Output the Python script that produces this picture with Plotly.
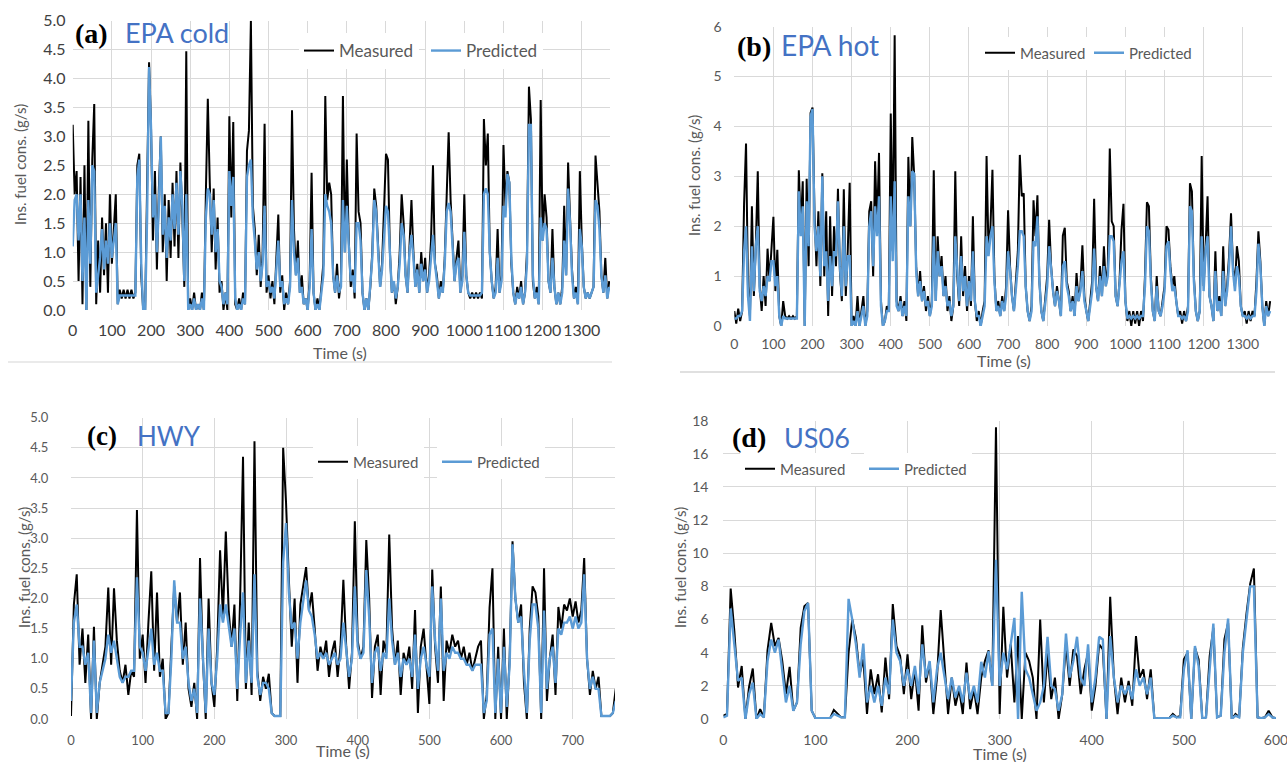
import plotly.graph_objects as go

W, H = 1287, 762

# ---------------- data ----------------
# EPA cycles sampled every 5 s, HWY and US06 every 4 s
T_EPA = list(range(0, 1371, 5))
T_HWY = list(range(0, 765, 4))
T_US06 = list(range(0, 601, 4))

EPA_COLD_MEAS = [
    3.2, 2.0, 2.4, 0.5, 2.3, 0.1, 2.5, 0.0, 3.27, 0.4, 2.6, 3.56, 0.1, 1.2, 0.3, 1.6, 0.6, 1.5, 0.3, 2.0,
    0.8, 1.4, 2.0, 0.1, 0.35, 0.2, 0.35, 0.2, 0.35, 0.2, 0.35, 0.2, 0.3, 2.5, 2.7, 0.6, 0.0, 0.0, 1.8, 4.28,
    3.15, 1.2, 2.4, 0.7, 2.1, 3.0, 1.0, 2.0, 0.5, 1.9, 0.9, 2.2, 1.1, 2.4, 0.9, 2.55, 1.6, 0.4, 4.47, 0.0,
    0.2, 0.0, 0.3, 0.0, 0.1, 0.0, 0.3, 0.0, 2.0, 3.65, 2.2, 1.0, 2.1, 0.7, 1.6, 0.3, 0.5, 0.0, 0.3, 0.0,
    3.35, 1.6, 3.25, 0.1, 0.0, 0.2, 0.0, 0.3, 0.1, 2.75, 3.1, 5.0, 1.8, 1.4, 0.6, 1.3, 0.4, 1.0, 3.22, 0.3,
    0.6, 0.2, 0.5, 0.1, 0.9, 1.65, 0.3, 0.6, 0.0, 0.3, 0.1, 0.5, 3.45, 1.4, 0.6, 1.2, 0.3, 0.6, 0.1, 0.2,
    0.0, 0.5, 2.37, 0.3, 0.0, 0.2, 0.0, 0.4, 0.8, 3.7, 1.9, 2.2, 2.0, 0.6, 0.3, 0.8, 0.2, 0.5, 3.7, 1.0,
    2.6, 1.2, 0.4, 0.7, 0.2, 3.05, 1.7, 1.5, 0.3, 0.0, 0.2, 0.0, 0.4, 1.0, 2.1, 1.8, 1.0, 0.4, 0.8, 1.6,
    2.7, 2.6, 1.0, 0.3, 0.5, 0.1, 0.4, 1.0, 2.0, 1.5, 0.6, 0.3, 1.2, 1.9, 1.0, 0.4, 0.8, 0.3, 1.0, 0.5,
    0.9, 0.3, 0.6, 1.2, 2.5, 0.8, 0.6, 0.2, 0.5, 0.3, 0.9, 1.9, 3.07, 1.9, 1.2, 0.5, 0.9, 1.2, 0.3, 0.6,
    2.0, 0.6, 0.3, 0.2, 0.3, 0.2, 0.3, 0.2, 0.3, 0.2, 3.3, 2.5, 3.05, 1.0, 0.5, 0.2, 0.4, 1.4, 0.3, 0.6,
    2.85, 1.8, 2.4, 2.2, 0.8, 0.3, 0.1, 0.4, 0.2, 0.5, 0.1, 0.3, 1.0, 3.86, 3.3, 0.5, 0.2, 0.4, 0.1, 3.63,
    1.2, 2.0, 1.6, 0.5, 0.3, 1.4, 0.4, 0.1, 0.3, 0.1, 0.4, 1.8, 0.6, 2.55, 1.6, 0.7, 0.2, 0.4, 0.1, 2.4,
    1.2, 0.4, 0.2, 0.3, 0.2, 0.3, 0.4, 2.67, 2.1, 1.7, 0.6, 0.3, 0.9, 0.2, 0.5,
]
EPA_COLD_PRED = [
    1.1, 1.9, 2.0, 1.2, 2.0, 0.5, 1.6, 0.0, 1.9, 0.8, 2.5, 2.4, 0.3, 0.6, 0.9, 1.4, 0.7, 1.2, 0.8, 1.5,
    0.9, 1.2, 1.5, 0.1, 0.25, 0.25, 0.25, 0.25, 0.25, 0.25, 0.25, 0.25, 0.25, 2.3, 2.6, 0.8, 0.0, 0.0, 1.6, 4.2,
    3.15, 1.6, 2.0, 1.0, 1.8, 3.0, 1.3, 1.8, 0.9, 1.6, 1.2, 2.0, 1.4, 2.2, 1.3, 2.4, 1.8, 0.5, 2.0, 0.0,
    0.1, 0.0, 0.2, 0.0, 0.1, 0.0, 0.2, 0.0, 1.6, 2.1, 2.0, 1.3, 1.9, 1.0, 1.4, 0.5, 0.4, 0.1, 0.3, 0.1,
    2.4, 1.8, 2.3, 0.2, 0.0, 0.1, 0.0, 0.2, 0.1, 2.3, 2.5, 2.6, 1.6, 1.2, 0.7, 1.0, 0.5, 0.8, 1.8, 0.4,
    0.5, 0.3, 0.4, 0.2, 0.7, 1.2, 0.4, 0.5, 0.1, 0.2, 0.1, 0.4, 1.9, 1.0, 0.6, 0.9, 0.3, 0.4, 0.1, 0.2,
    0.0, 0.4, 1.4, 0.3, 0.0, 0.1, 0.0, 0.3, 0.6, 2.0, 1.8, 1.7, 1.5, 0.6, 0.3, 0.6, 0.3, 0.4, 1.9, 1.0,
    1.8, 1.1, 0.5, 0.6, 0.3, 1.5, 1.5, 1.2, 0.3, 0.0, 0.2, 0.0, 0.4, 0.9, 1.9, 1.7, 1.0, 0.4, 0.7, 1.3,
    1.8, 1.7, 1.0, 0.3, 0.5, 0.2, 0.4, 0.8, 1.5, 1.3, 0.6, 0.3, 1.0, 1.3, 0.9, 0.4, 0.7, 0.3, 0.8, 0.5,
    0.7, 0.3, 0.5, 0.9, 1.3, 0.8, 0.5, 0.2, 0.4, 0.3, 0.8, 1.7, 1.85, 1.7, 1.1, 0.5, 0.8, 0.9, 0.3, 0.5,
    1.35, 0.6, 0.3, 0.25, 0.25, 0.25, 0.25, 0.25, 0.25, 0.3, 2.0, 2.1, 2.0, 1.0, 0.5, 0.2, 0.3, 0.9, 0.3, 0.5,
    1.8, 1.6, 2.35, 2.2, 0.9, 0.3, 0.1, 0.3, 0.2, 0.4, 0.1, 0.3, 0.8, 3.2, 3.2, 0.6, 0.2, 0.3, 0.1, 1.6,
    1.2, 1.5, 1.4, 0.5, 0.3, 0.9, 0.4, 0.1, 0.3, 0.1, 0.3, 1.2, 0.6, 2.1, 1.5, 0.6, 0.2, 0.3, 0.1, 1.4,
    1.1, 0.4, 0.2, 0.3, 0.2, 0.3, 0.4, 1.9, 1.8, 1.4, 0.6, 0.3, 0.6, 0.2, 0.4,
]

EPA_HOT_MEAS = [
    0.3, 0.05, 0.35, 0.1, 0.3, 2.45, 3.66, 0.8, 0.2, 2.4, 0.6, 1.6, 3.1, 0.8, 0.3, 1.0, 0.4, 1.55, 0.9, 1.7,
    2.19, 0.7, 1.53, 0.2, 0.0, 0.5, 0.2, 0.15, 0.2, 0.15, 0.2, 0.15, 0.2, 3.12, 2.0, 2.9, 0.0, 2.95, 1.2, 4.27,
    4.38, 2.3, 1.2, 2.3, 0.8, 3.06, 1.0, 2.3, 0.2, 2.2, 0.6, 2.0, 1.2, 2.75, 1.1, 0.5, 2.74, 0.6, 1.5, 2.87,
    0.0, 0.2, 0.0, 0.6, 0.0, 0.3, 0.6, 0.0, 0.3, 2.3, 2.5, 1.0, 3.3, 2.0, 3.47, 0.5, 0.0, 0.1, 0.4, 0.3,
    4.26, 1.5, 5.83, 0.5, 0.3, 0.6, 0.2, 0.5, 0.1, 3.39, 2.0, 3.79, 3.0, 1.2, 0.6, 1.1, 0.5, 0.8, 0.3, 0.6,
    0.2, 0.5, 3.12, 0.5, 1.8, 1.0, 1.4, 0.6, 1.0, 0.3, 0.6, 0.1, 0.4, 3.1, 1.0, 0.4, 1.8, 0.6, 1.2, 0.3,
    1.0, 0.4, 2.2, 0.5, 0.1, 0.3, 0.0, 0.3, 0.5, 3.41, 1.5, 2.0, 3.13, 1.0, 0.3, 0.5, 0.2, 0.6, 0.3, 0.8,
    2.32, 1.2, 0.6, 0.3, 0.9, 1.5, 3.43, 2.6, 2.66, 0.8, 0.3, 0.1, 0.4, 2.52, 1.8, 2.62, 0.9, 0.3, 0.1, 0.5,
    1.0, 2.13, 1.2, 0.7, 0.4, 0.8, 0.5, 0.2, 1.81, 1.97, 0.9, 0.7, 0.3, 0.6, 0.2, 1.06, 0.5, 0.8, 1.62, 0.6,
    0.3, 0.1, 0.5, 0.9, 2.55, 0.8, 0.5, 1.2, 0.6, 1.6, 0.8, 1.2, 3.56, 2.1, 2.0, 0.6, 0.4, 0.9, 1.93, 2.45,
    0.5, 0.1, 0.3, 0.0, 0.3, 0.05, 0.3, 0.0, 0.3, 0.1, 1.0, 2.48, 2.4, 1.0, 0.3, 0.1, 1.0, 0.3, 0.2, 0.5,
    0.8, 2.0, 1.93, 1.2, 0.8, 1.0, 0.5, 0.2, 0.3, 0.05, 0.3, 0.1, 0.4, 2.86, 2.7, 1.0, 0.3, 0.1, 0.3, 3.41,
    0.8, 1.6, 2.6, 0.6, 0.4, 0.1, 1.5, 0.3, 0.6, 0.2, 1.6, 0.4, 0.8, 1.4, 2.26, 1.2, 0.8, 1.6, 1.3, 0.4,
    0.2, 0.3, 0.05, 0.3, 0.1, 0.3, 0.2, 0.9, 1.9, 1.3, 0.4, 0.0, 0.5, 0.2, 0.5,
]
EPA_HOT_PRED = [
    0.15, 0.15, 0.2, 0.2, 0.3, 1.5, 2.0, 0.6, 0.1, 1.6, 0.7, 1.6, 2.0, 0.7, 0.5, 0.8, 0.6, 1.0, 0.9, 1.3,
    1.3, 0.8, 1.0, 0.2, 0.0, 0.2, 0.15, 0.15, 0.15, 0.15, 0.15, 0.15, 0.15, 2.7, 1.8, 2.4, 0.0, 2.5, 1.6, 4.2,
    4.35, 2.0, 1.5, 2.0, 1.0, 3.0, 1.2, 1.5, 0.5, 1.4, 0.8, 1.5, 1.4, 2.5, 1.2, 0.6, 2.0, 0.8, 1.4, 1.4,
    0.0, 0.1, 0.0, 0.3, 0.0, 0.2, 0.4, 0.0, 0.2, 2.0, 2.3, 1.2, 2.4, 1.8, 2.6, 0.4, 0.0, 0.1, 0.3, 0.3,
    2.6, 1.3, 2.9, 0.4, 0.3, 0.5, 0.2, 0.4, 0.2, 2.6, 2.0, 3.1, 3.05, 1.1, 0.6, 0.9, 0.5, 0.7, 0.4, 0.5,
    0.2, 0.4, 1.8, 0.5, 1.5, 1.0, 1.2, 0.6, 0.8, 0.4, 0.5, 0.2, 0.4, 1.8, 1.0, 0.5, 1.4, 0.7, 1.0, 0.4,
    0.9, 0.5, 1.5, 0.5, 0.2, 0.2, 0.0, 0.2, 0.4, 1.8, 1.4, 1.8, 2.0, 0.9, 0.3, 0.4, 0.2, 0.5, 0.3, 0.6,
    1.5, 1.1, 0.6, 0.3, 0.7, 1.2, 1.9, 1.9, 1.8, 0.8, 0.3, 0.1, 0.3, 1.7, 1.6, 2.2, 0.9, 0.3, 0.1, 0.4,
    0.8, 1.6, 1.1, 0.7, 0.4, 0.7, 0.5, 0.2, 1.2, 1.3, 0.8, 0.6, 0.3, 0.5, 0.2, 0.8, 0.5, 0.7, 1.1, 0.5,
    0.3, 0.1, 0.4, 0.7, 1.55, 0.8, 0.5, 1.0, 0.6, 1.2, 0.8, 1.0, 1.8, 1.8, 1.7, 0.6, 0.4, 0.8, 1.3, 1.5,
    0.5, 0.15, 0.2, 0.15, 0.2, 0.15, 0.2, 0.15, 0.2, 0.2, 0.8, 2.0, 1.9, 0.9, 0.3, 0.1, 0.8, 0.3, 0.2, 0.4,
    0.7, 1.6, 1.7, 1.1, 0.7, 0.8, 0.5, 0.2, 0.2, 0.15, 0.2, 0.1, 0.3, 2.4, 2.3, 0.9, 0.3, 0.1, 0.3, 1.8,
    0.7, 1.5, 1.8, 0.6, 0.4, 0.1, 1.1, 0.3, 0.5, 0.2, 1.1, 0.4, 0.7, 1.2, 2.0, 1.1, 0.7, 1.2, 1.0, 0.4,
    0.2, 0.2, 0.15, 0.2, 0.15, 0.2, 0.2, 0.7, 1.65, 1.2, 0.4, 0.0, 0.4, 0.2, 0.3,
]

HWY_MEAS = [
    0.05, 1.9, 2.4, 0.9, 1.5, 0.6, 1.4, 0.0, 1.53, 0.0, 0.6, 0.9, 1.2, 2.18, 0.9, 2.17, 1.3, 0.8, 0.6, 0.9, 0.4, 0.8, 0.7, 3.47, 1.0,
    1.4, 0.6, 1.6, 2.45, 0.8, 2.1, 0.7, 1.0, 0.0, 0.1, 1.2, 2.2, 1.6, 2.1, 0.9, 1.6, 0.5, 0.2, 0.6, 0.0, 2.67, 1.0, 0.0, 2.0, 0.6,
    0.2, 1.2, 2.8, 1.7, 3.11, 1.8, 1.2, 1.9, 0.3, 2.0, 4.35, 0.5, 1.6, 0.4, 4.61, 0.8, 0.3, 0.7, 0.5, 0.75, 0.1, 0.05, 0.05, 0.05, 4.5,
    3.6, 2.3, 1.2, 2.0, 0.6, 1.9, 2.2, 2.52, 1.8, 2.1, 1.5, 0.8, 1.2, 1.0, 1.3, 0.7, 1.1, 1.3, 0.7, 1.2, 2.31, 1.2, 0.5, 1.1, 3.28,
    1.3, 1.0, 1.2, 2.97, 2.0, 0.35, 1.2, 1.4, 0.4, 1.3, 1.1, 3.06, 1.5, 0.9, 1.3, 0.4, 1.1, 0.9, 1.2, 0.5, 1.81, 0.1, 1.2, 1.5, 0.8,
    0.25, 2.48, 1.2, 0.6, 2.2, 0.3, 1.3, 1.1, 1.4, 1.2, 1.3, 1.0, 1.2, 0.9, 1.1, 0.8, 1.0, 1.2, 1.3, 0.0, 0.4, 1.85, 2.5, 0.0, 1.2,
    0.0, 1.5, 0.0, 1.0, 2.95, 2.0, 1.6, 1.9, 0.6, 0.0, 1.5, 2.2, 2.1, 1.7, 0.0, 2.5, 0.3, 1.0, 1.4, 0.4, 1.86, 1.5, 1.9, 1.8, 2.0,
    1.7, 1.95, 1.6, 1.8, 2.67, 1.0, 0.4, 0.8, 0.5, 0.7, 0.05, 0.05, 0.05, 0.05, 0.1, 0.5, 0.2,
]
HWY_PRED = [
    0.3, 1.6, 1.9, 1.2, 1.2, 0.9, 1.1, 0.1, 1.3, 0.1, 0.6, 0.8, 1.0, 1.4, 1.1, 1.3, 1.0, 0.7, 0.6, 0.7, 0.7, 0.8, 0.8, 2.35, 1.2,
    1.1, 0.8, 1.2, 1.5, 0.9, 1.1, 0.8, 0.8, 0.1, 0.1, 1.0, 2.3, 1.6, 1.6, 1.0, 1.2, 0.6, 0.3, 0.5, 0.1, 2.0, 1.0, 0.1, 1.5, 0.6,
    0.4, 1.0, 1.9, 1.6, 1.9, 1.5, 1.2, 1.5, 0.5, 1.4, 2.1, 0.6, 1.3, 0.6, 2.4, 0.7, 0.4, 0.6, 0.6, 0.5, 0.1, 0.05, 0.05, 0.05, 2.6,
    3.25, 2.1, 1.5, 1.6, 1.0, 1.6, 2.0, 2.3, 1.8, 1.7, 1.4, 1.0, 1.1, 1.0, 1.1, 0.9, 1.0, 1.1, 0.9, 1.0, 1.6, 1.1, 0.7, 1.0, 2.2,
    1.2, 1.0, 1.1, 2.47, 1.7, 0.6, 1.1, 1.2, 0.8, 1.1, 1.0, 2.0, 1.3, 0.9, 1.1, 0.7, 1.0, 0.9, 1.0, 0.7, 1.4, 0.5, 1.0, 1.2, 0.9,
    0.7, 2.2, 1.3, 0.8, 2.0, 0.8, 1.1, 1.0, 1.2, 1.1, 1.1, 1.0, 1.0, 0.9, 0.9, 0.8, 0.9, 0.9, 0.9, 0.1, 0.3, 1.4, 1.5, 0.1, 1.0,
    0.1, 1.2, 0.2, 0.9, 2.9, 2.0, 1.6, 1.7, 0.8, 0.1, 1.3, 1.9, 1.9, 1.5, 0.1, 1.8, 0.5, 1.0, 1.2, 0.6, 1.5, 1.4, 1.6, 1.6, 1.7,
    1.5, 1.7, 1.5, 1.6, 2.4, 1.0, 0.5, 0.7, 0.5, 0.5, 0.05, 0.05, 0.05, 0.05, 0.1, 0.3, 0.1,
]

US06_MEAS = [
    0.2, 0.3, 7.87, 5.3, 1.9, 3.2, 0.0, 1.95, 3.05, 0.0, 0.6, 0.1, 4.15, 5.8, 4.4, 4.9, 3.5, 1.5, 3.15, 0.5, 1.0, 5.5, 6.8, 7.0, 0.5,
    0.05, 0.05, 0.05, 0.05, 0.05, 0.55, 0.3, 0.1, 0.1, 4.0, 6.0, 4.9, 2.7, 3.6, 0.3, 3.0, 1.5, 2.7, 0.4, 3.7, 1.2, 6.93, 4.4, 3.8, 1.5,
    3.9, 1.2, 3.0, 0.5, 5.66, 2.2, 3.4, 0.3, 2.5, 6.57, 3.6, 0.3, 2.5, 0.8, 1.8, 0.3, 3.4, 0.6, 1.8, 0.3, 2.5, 3.5, 4.15, 2.0, 17.6,
    0.3, 6.77, 2.5, 4.5, 1.0, 5.0, 0.0, 4.0, 3.5, 2.5, 0.0, 6.0, 1.0, 4.0, 1.2, 2.5, 0.0, 1.5, 4.5, 2.0, 4.2, 3.8, 1.5, 3.0, 4.0,
    0.5, 2.0, 4.5, 4.2, 0.0, 7.37, 2.5, 0.3, 2.5, 1.0, 2.3, 0.8, 5.0, 2.5, 3.0, 1.2, 3.0, 0.0, 0.05, 0.05, 0.05, 0.05, 0.3, 0.1, 0.2,
    3.6, 4.0, 0.0, 4.3, 3.6, 0.0, 0.1, 3.8, 5.5, 0.1, 0.2, 4.8, 5.8, 0.0, 0.3, 0.1, 4.3, 6.37, 8.17, 9.08, 0.1, 0.05, 0.1, 0.5, 0.1,
    0.05,
]
US06_PRED = [
    0.1, 0.2, 6.67, 4.5, 2.3, 2.5, 0.0, 1.5, 2.2, 0.0, 0.3, 0.1, 3.5, 4.8, 4.0, 4.8, 3.0, 1.0, 2.0, 0.5, 1.0, 4.5, 6.5, 7.0, 0.5,
    0.05, 0.05, 0.05, 0.05, 0.05, 0.3, 0.2, 0.1, 0.1, 7.25, 6.0, 4.5, 2.5, 4.55, 1.0, 2.0, 1.0, 2.0, 0.8, 2.5, 1.5, 6.0, 4.0, 3.5, 2.0,
    3.0, 2.0, 3.2, 1.5, 4.5, 2.5, 3.5, 1.0, 3.0, 4.0, 2.5, 1.2, 2.5, 1.3, 2.0, 1.0, 2.8, 1.2, 2.0, 1.0, 3.45, 2.5, 4.1, 2.0, 9.6,
    2.0, 4.0, 3.0, 4.5, 6.1, 0.0, 7.67, 3.0, 2.5, 1.5, 0.5, 1.0, 2.0, 4.96, 2.0, 1.8, 0.5, 1.5, 5.16, 2.5, 3.5, 4.96, 2.5, 2.0, 4.5,
    1.0, 2.5, 4.96, 4.8, 0.0, 5.0, 2.5, 1.0, 2.0, 1.5, 2.0, 1.2, 3.0, 2.0, 2.5, 1.5, 2.5, 0.0, 0.05, 0.05, 0.05, 0.05, 0.2, 0.1, 0.1,
    3.0, 4.15, 0.0, 4.4, 3.2, 0.0, 0.1, 3.0, 5.76, 0.1, 0.2, 4.0, 6.06, 0.0, 0.2, 0.1, 4.0, 6.0, 8.0, 8.0, 0.1, 0.05, 0.1, 0.3, 0.1,
    0.05,
]

SERIES_NAMES = ["Measured", "Predicted"]
PANEL_TAGS = ["(a)", "(b)", "(c)", "(d)"]
PANEL_CYCLES = ["EPA cold", "EPA hot", "HWY", "US06"]
Y_TITLE = "Ins. fuel cons. (g/s)"
X_TITLE = "Time (s)"

# ---------------- styling / layout helpers ----------------
MEAS_COLOR = "#000000"
PRED_COLOR = "#5B9BD5"
TAG_BLUE = "#4472C4"
GRID = "#d9d9d9"
FONT = "Lato"


def fx(px):
    return px / W


def fy(py):
    return 1 - py / H


panels = [
    dict(t=T_EPA, m=EPA_COLD_MEAS, p=EPA_COLD_PRED, box=(72.7, 610, 20.7, 310), xr=[0, 1372], yr=[0, 5],
         dy=0.5, dx=100, yfmt=".1f", tfs=16, tcol="#404040", ticklen_x=6, ticklen_y=3,
         leg=(299, 426, 51, 17), tag=(73, 33), tagfs=28, cyc=(123, 32), cycfs=27,
         ytitle=(20, 165), xtitle=(340, 352)),
    dict(t=T_EPA, m=EPA_HOT_MEAS, p=EPA_HOT_PRED, box=(734.3, 1271.7, 26.7, 326), xr=[0, 1374], yr=[0, 6],
         dy=1, dx=100, yfmt="d", tfs=14, tcol="#595959", ticklen_x=5, ticklen_y=9,
         leg=(980, 1089, 53, 15), tag=(735, 46), tagfs=28, cyc=(779, 45), cycfs=28,
         ytitle=(694, 176), xtitle=(1004, 360)),
    dict(t=T_HWY, m=HWY_MEAS, p=HWY_PRED, box=(71, 615, 417.7, 719), xr=[0, 759], yr=[0, 5],
         dy=0.5, dx=100, yfmt=".1f", tfs=13, tcol="#595959", ticklen_x=9, ticklen_y=19,
         leg=(313, 437, 462, 15), tag=(85, 436), tagfs=27, cyc=(135, 436), cycfs=26,
         ytitle=(24, 568), xtitle=(343, 750)),
    dict(t=T_US06, m=US06_MEAS, p=US06_PRED, box=(723.3, 1276, 420.7, 719), xr=[0, 600], yr=[0, 18],
         dy=2, dx=100, yfmt="d", tfs=14, tcol="#595959", ticklen_x=8, ticklen_y=11,
         leg=(740, 864, 469, 15), tag=(730, 437), tagfs=28, cyc=(782, 437), cycfs=27,
         ytitle=(680, 568), xtitle=(1000, 753)),
]

fig = go.Figure()
layout = dict(
    width=W, height=H, margin=dict(l=0, r=0, t=0, b=0, autoexpand=False),
    paper_bgcolor="white", plot_bgcolor="white", showlegend=True,
    font=dict(family=FONT, color="#595959"),
)
annotations = []
leg_idx = 0

for i, pn in enumerate(panels):
    k = "" if i == 0 else str(i + 1)
    xa, ya = "x" + k, "y" + k
    lxm, lxp, ly, lfs = pn["leg"]
    for j, (name, vals, col, wd, lx) in enumerate((
            (SERIES_NAMES[0], pn["m"], MEAS_COLOR, 2.0, lxm),
            (SERIES_NAMES[1], pn["p"], PRED_COLOR, 2.4, lxp))):
        leg_idx += 1
        legname = "legend" if leg_idx == 1 else "legend%d" % leg_idx
        fig.add_trace(go.Scatter(x=pn["t"], y=vals, mode="lines", name=name,
                                 line=dict(color=col, width=wd),
                                 xaxis=xa, yaxis=ya, legend=legname, hoverinfo="skip"))
        layout[legname] = dict(
            x=fx(lx), y=fy(ly), xanchor="left", yanchor="middle", orientation="h",
            bgcolor="white", borderwidth=0, font=dict(size=lfs, color="#595959", family=FONT),
            itemwidth=30,
        )
    x0, x1, y0, y1 = pn["box"]
    layout["xaxis" + k] = dict(
        domain=[fx(x0), fx(x1)], range=pn["xr"], dtick=pn["dx"], tick0=0, anchor=ya,
        showgrid=True, gridcolor=GRID, gridwidth=1, zeroline=False, showline=False,
        ticks="outside", ticklen=pn["ticklen_x"], tickcolor="rgba(0,0,0,0)", automargin=False,
        ticklabeloverflow="allow",
        tickfont=dict(size=pn["tfs"], color=pn["tcol"], family=FONT), fixedrange=True,
    )
    layout["yaxis" + k] = dict(
        domain=[fy(y1), fy(y0)], range=pn["yr"], dtick=pn["dy"], tick0=0, anchor=xa,
        tickformat=pn["yfmt"], showgrid=True, gridcolor=GRID, gridwidth=1, zeroline=False,
        showline=False, ticks="outside", ticklen=pn["ticklen_y"], tickcolor="rgba(0,0,0,0)",
        automargin=False, ticklabeloverflow="allow",
        tickfont=dict(size=pn["tfs"], color=pn["tcol"], family=FONT), fixedrange=True,
    )
    tx, ty = pn["tag"]
    annotations.append(dict(x=fx(tx), y=fy(ty), xref="paper", yref="paper", xanchor="left",
                            yanchor="middle", text="<b>%s</b>" % PANEL_TAGS[i], showarrow=False,
                            font=dict(family="Liberation Serif", size=pn["tagfs"], color="black")))
    cx, cy = pn["cyc"]
    annotations.append(dict(x=fx(cx), y=fy(cy), xref="paper", yref="paper", xanchor="left",
                            yanchor="middle", text=PANEL_CYCLES[i], showarrow=False,
                            font=dict(family=FONT, size=pn["cycfs"], color=TAG_BLUE)))
    ytx, yty = pn["ytitle"]
    annotations.append(dict(x=fx(ytx), y=fy(yty), xref="paper", yref="paper", xanchor="center",
                            yanchor="middle", text=Y_TITLE, textangle=-90, showarrow=False,
                            font=dict(family=FONT, size=15, color="#595959")))
    xtx, xty = pn["xtitle"]
    annotations.append(dict(x=fx(xtx), y=fy(xty), xref="paper", yref="paper", xanchor="center",
                            yanchor="middle", text=X_TITLE, showarrow=False,
                            font=dict(family=FONT, size=16, color="#595959")))

layout["annotations"] = annotations
layout["shapes"] = [
    dict(type="line", xref="paper", yref="paper", x0=fx(8), x1=fx(612), y0=fy(362), y1=fy(362),
         line=dict(color="#e3e3e3", width=1.5)),
    dict(type="line", xref="paper", yref="paper", x0=fx(680), x1=fx(1275), y0=fy(372), y1=fy(372),
         line=dict(color="#d6d6d6", width=1.5)),
]
fig.update_layout(**layout)
fig.write_html("out.html")
